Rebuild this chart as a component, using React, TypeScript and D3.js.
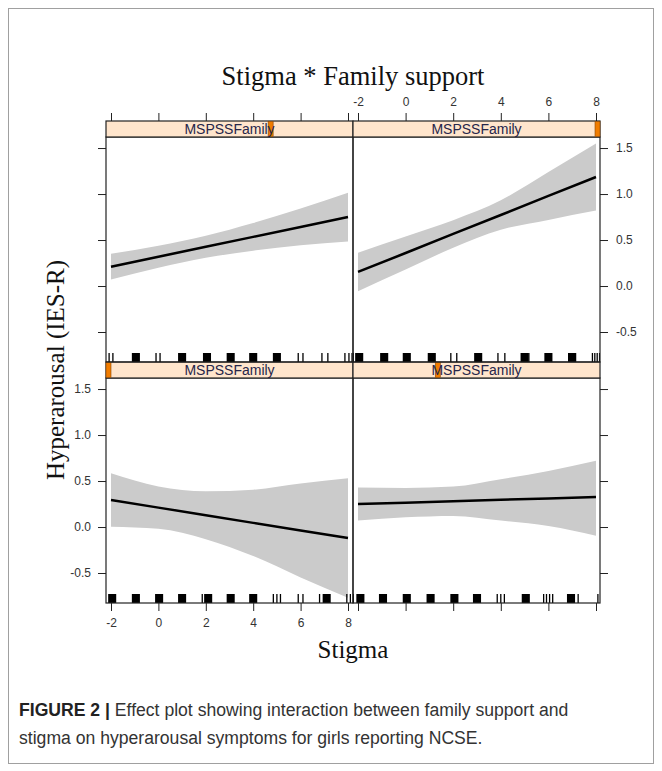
import React, { useEffect, useRef } from "react";
import * as d3 from "d3";

// stigma values the effect was evaluated at
const stigmaGrid = [-2, 0, 2, 4, 6, 8];
const xTicks = [-2, 0, 2, 4, 6, 8];
const yTicks = [-0.5, 0, 0.5, 1.0, 1.5];

// lattice panel order: bottom-left, bottom-right, top-left, top-right
const stripLabels = ["MSPSSFamily", "MSPSSFamily", "MSPSSFamily", "MSPSSFamily"];
// position of the conditioning level inside each strip (0..1)
const levelMarks = [0, 0.34, 0.67, 1];

// fitted effect and confidence band per panel
const fitP1 = [0.294, 0.211, 0.128, 0.045, -0.038, -0.12];
const upperP1 = [0.584, 0.441, 0.388, 0.405, 0.472, 0.53];
const lowerP1 = [0.004, -0.019, -0.132, -0.315, -0.548, -0.77];

const fitP2 = [0.25, 0.265, 0.28, 0.296, 0.311, 0.326];
const upperP2 = [0.43, 0.425, 0.44, 0.52, 0.61, 0.72];
const lowerP2 = [0.07, 0.105, 0.12, 0.07, 0.01, -0.095];

const fitP3 = [0.21, 0.318, 0.426, 0.534, 0.642, 0.75];
const upperP3 = [0.35, 0.438, 0.546, 0.684, 0.842, 1.015];
const lowerP3 = [0.07, 0.198, 0.306, 0.384, 0.442, 0.485];

const fitP4 = [0.153, 0.359, 0.566, 0.772, 0.979, 1.185];
const upperP4 = [0.363, 0.539, 0.716, 0.932, 1.239, 1.55];
const lowerP4 = [-0.057, 0.179, 0.416, 0.612, 0.719, 0.82];

// rug: dense clusters (drawn solid) and single ticks
const rugBlocksP1 = [-1.95, -0.95, 0.03, 1.0, 2.1, 3.05, 4.0, 7.1];
const rugLinesP1 = [1.85, 4.85, 5.0, 5.15, 5.9, 6.1, 6.8, 7.95, 8.1];
const rugBlocksP2 = [-1.9, -0.95, 0.05, 1.05, 2.05, 3.0, 5.05, 6.95];
const rugLinesP2 = [-2.2, 3.85, 4.0, 4.15, 5.8, 5.92, 6.05, 6.18, 7.25, 8.08];
const rugBlocksP3 = [-0.95, 1.0, 2.05, 3.05, 4.0, 5.0];
const rugLinesP3 = [-2.08, -1.92, -0.1, 0.07, 5.9, 6.1, 6.9, 7.15, 7.87, 8.04, 8.17];
const rugBlocksP4 = [-1.95, -0.9, 0.05, 1.1, 3.05, 5.0, 6.0, 7.0];
const rugLinesP4 = [-2.2, 1.9, 2.15, 3.88, 4.17, 5.18, 6.85, 7.85, 7.95, 8.05, 8.15];

const panels = [
  { fit: fitP1, upper: upperP1, lower: lowerP1, blocks: rugBlocksP1, lines: rugLinesP1 },
  { fit: fitP2, upper: upperP2, lower: lowerP2, blocks: rugBlocksP2, lines: rugLinesP2 },
  { fit: fitP3, upper: upperP3, lower: lowerP3, blocks: rugBlocksP3, lines: rugLinesP3 },
  { fit: fitP4, upper: upperP4, lower: lowerP4, blocks: rugBlocksP4, lines: rugLinesP4 },
];

const App = () => {
  const ref = useRef<SVGSVGElement | null>(null);

  useEffect(() => {
    const svg = d3.select(ref.current);
    svg.selectAll("*").remove();

    const W = 662;
    const H = 771;
    const sans = "'Liberation Sans', Arial, sans-serif";
    const serif = "'Liberation Serif', 'Times New Roman', serif";

    svg.append("rect").attr("width", W).attr("height", H).attr("fill", "#fff");
    svg.append("rect")
      .attr("x", 8.5).attr("y", 8.5)
      .attr("width", 645).attr("height", 755)
      .attr("fill", "none").attr("stroke", "#a0a0a0");

    // layout of the 2x2 lattice
    const cols = [
      { x0: 106, x1: 353, r0: 111, r1: 348 },
      { x0: 353, x1: 600, r0: 358, r1: 596 },
    ];
    const rows = [
      { s0: 362, s1: 378, p0: 378, p1: 603 }, // bottom row
      { s0: 121, s1: 137, p0: 137, p1: 362 }, // top row
    ];
    const yDomain = [-0.826, 1.62];

    const defs = svg.append("defs");

    panels.forEach((p, i) => {
      const c = cols[i % 2];
      const r = rows[Math.floor(i / 2)];
      const x = d3.scaleLinear().domain([-2, 8]).range([c.r0, c.r1]);
      const y = d3.scaleLinear().domain(yDomain).range([r.p1, r.p0]);

      defs.append("clipPath").attr("id", `clip${i}`)
        .append("rect")
        .attr("x", c.x0).attr("y", r.p0)
        .attr("width", c.x1 - c.x0).attr("height", r.p1 - r.p0);

      const g = svg.append("g").attr("clip-path", `url(#clip${i})`);

      const area = d3.area<number>()
        .x((d, k) => x(stigmaGrid[k]))
        .y0((d, k) => y(p.lower[k]))
        .y1((d, k) => y(p.upper[k]))
        .curve(d3.curveMonotoneX);
      g.append("path").attr("d", area(p.fit) as string).attr("fill", "#cbcbcb");

      const line = d3.line<number>()
        .x((d, k) => x(stigmaGrid[k]))
        .y(d => y(d));
      g.append("path").attr("d", line(p.fit) as string)
        .attr("fill", "none").attr("stroke", "#000").attr("stroke-width", 2.5);

      // rug along the bottom
      g.selectAll("rect.blk").data(p.blocks).join("rect")
        .attr("x", d => x(d - 0.17)).attr("y", r.p1 - 9)
        .attr("width", d => x(d + 0.17) - x(d - 0.17)).attr("height", 9)
        .attr("fill", "#000");
      g.selectAll("line.rug").data(p.lines).join("line")
        .attr("x1", d => x(d)).attr("x2", d => x(d))
        .attr("y1", r.p1 - 9).attr("y2", r.p1)
        .attr("stroke", "#000").attr("stroke-width", 1.3);

      svg.append("rect")
        .attr("x", c.x0).attr("y", r.p0)
        .attr("width", c.x1 - c.x0).attr("height", r.p1 - r.p0)
        .attr("fill", "none").attr("stroke", "#222").attr("stroke-width", 1.2);

      // strip
      svg.append("rect")
        .attr("x", c.x0).attr("y", r.s0)
        .attr("width", c.x1 - c.x0).attr("height", r.s1 - r.s0)
        .attr("fill", "#ffe5cc").attr("stroke", "#222").attr("stroke-width", 1.2);
      svg.append("rect")
        .attr("x", c.x0 + levelMarks[i] * (c.x1 - c.x0 - 5)).attr("y", r.s0 + 0.5)
        .attr("width", 5).attr("height", r.s1 - r.s0 - 1)
        .attr("fill", "#f07c00").attr("stroke", "#8a4400").attr("stroke-width", 0.6);
      svg.append("text")
        .attr("x", (c.x0 + c.x1) / 2).attr("y", r.s1 - 3)
        .attr("text-anchor", "middle")
        .style("font", `14px ${sans}`)
        .attr("fill", "#26264a")
        .text(stripLabels[i]);

      // axes, lattice style: labels alternate sides
      const isLeft = i % 2 === 0;
      const isBottom = i < 2;
      const fmtY = (d: number) => d.toFixed(1);
      const styleAxis = (sel: d3.Selection<SVGGElement, unknown, null, undefined>) => {
        sel.select(".domain").remove();
        sel.selectAll("line").attr("stroke", "#222");
        sel.selectAll("text").style("font", `12px ${sans}`).attr("fill", "#333");
      };

      if (isLeft) {
        const ax = d3.axisLeft(y).tickValues(yTicks).tickSize(8).tickPadding(7)
          .tickFormat(isBottom ? (d => fmtY(d as number)) : () => "");
        svg.append("g").attr("transform", `translate(${c.x0},0)`).call(ax).call(styleAxis);
      } else {
        const ax = d3.axisRight(y).tickValues(yTicks).tickSize(8).tickPadding(8)
          .tickFormat(!isBottom ? (d => fmtY(d as number)) : () => "");
        svg.append("g").attr("transform", `translate(${c.x1},0)`).call(ax).call(styleAxis);
      }
      if (isBottom) {
        const ax = d3.axisBottom(x).tickValues(xTicks).tickSize(8).tickPadding(7)
          .tickFormat(isLeft ? (d => String(d)) : () => "");
        svg.append("g").attr("transform", `translate(0,${r.p1})`).call(ax).call(styleAxis);
      } else {
        const ax = d3.axisTop(x).tickValues(xTicks).tickSize(8).tickPadding(7)
          .tickFormat(!isLeft ? (d => String(d)) : () => "");
        svg.append("g").attr("transform", `translate(0,${r.s0})`).call(ax).call(styleAxis);
      }
    });

    // titles
    svg.append("text")
      .attr("x", 353).attr("y", 85).attr("text-anchor", "middle")
      .style("font", `26.5px ${serif}`).attr("fill", "#111")
      .text("Stigma * Family support");
    svg.append("text")
      .attr("transform", "translate(64,370) rotate(-90)").attr("text-anchor", "middle")
      .style("font", `25px ${serif}`).attr("fill", "#111")
      .text("Hyperarousal (IES-R)");
    svg.append("text")
      .attr("x", 353).attr("y", 658).attr("text-anchor", "middle")
      .style("font", `25px ${serif}`).attr("fill", "#111")
      .text("Stigma");

    // caption
    const cap = svg.append("text").attr("x", 19).attr("y", 716)
      .style("font", `17.6px ${sans}`).attr("fill", "#333");
    cap.append("tspan").attr("font-weight", "bold").attr("fill", "#222").text("FIGURE 2 | ");
    cap.append("tspan").text("Effect plot showing interaction between family support and");
    svg.append("text").attr("x", 19).attr("y", 744)
      .style("font", `17.6px ${sans}`).attr("fill", "#333")
      .text("stigma on hyperarousal symptoms for girls reporting NCSE.");
  }, []);

  return (
    <div style={{ position: "absolute", left: 0, top: 0 }}>
      <svg ref={ref} width={662} height={771} style={{ display: "block" }} />
    </div>
  );
};

export default App;
